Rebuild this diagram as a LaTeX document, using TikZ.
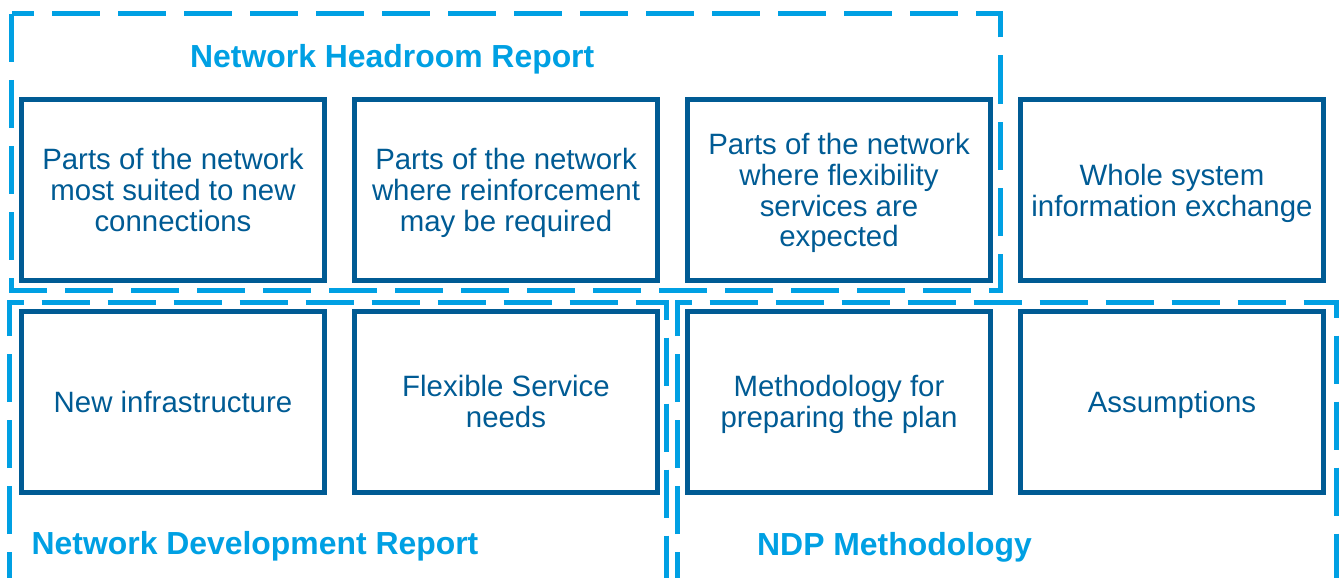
\documentclass[tikz,border=0pt]{standalone}
\usepackage{fontspec}
\setmainfont{Liberation Sans}
\usepackage{tikz}
\definecolor{boxblue}{RGB}{0,91,148}
\definecolor{dashblue}{RGB}{0,160,227}

\begin{document}
\begin{tikzpicture}[x=1pt, y=-1pt,
    part/.style={draw=boxblue, line width=5pt, minimum width=303pt, minimum height=181pt,
      inner sep=0pt, text depth=0pt, align=center, text=boxblue,
      font=\fontsize{29.4}{30.7}\selectfont},
    report/.style={inner sep=0pt, anchor=base west, text=dashblue,
      font=\fontsize{31.9}{34}\selectfont\bfseries},
    group/.style={draw=dashblue, line width=5pt, dash pattern=on 48pt off 18pt}]
      \useasboundingbox (0,0) rectangle (1342,578);

      \draw [group] (11.5,14) rectangle (1000,290.5);
      \draw [group] (9.5,600) -- (9.5,302) -- (666,302) -- (666,600);
      \draw [group] (677.5,600) -- (677.5,302) -- (1336,302) -- (1336,600);

      \node [report] (headroom) at (190,68) {Network Headroom Report};
      \node [report] (development) at (31.5,554.5) {Network Development Report};
      \node [report] (methodology) at (757,555) {NDP Methodology};

      \node [part] (suited) at (173,190) {Parts of the network\\most suited to new\\connections};
      \node [part] (reinforce) at (506,190) {Parts of the network\\where reinforcement\\may be required};
      \node [part] (flex) at (839,190) {Parts of the network\\where flexibility\\services are\\expected};
      \node [part] (exchange) at (1172,190) {Whole system\\information exchange};

      \node [part] (infra) at (173,401.5) {New infrastructure};
      \node [part] (needs) at (506,401.5) {Flexible Service\\needs};
      \node [part] (method) at (839,401.5) {Methodology for\\preparing the plan};
      \node [part] (assume) at (1172,401.5) {Assumptions};
\end{tikzpicture}
\end{document}
